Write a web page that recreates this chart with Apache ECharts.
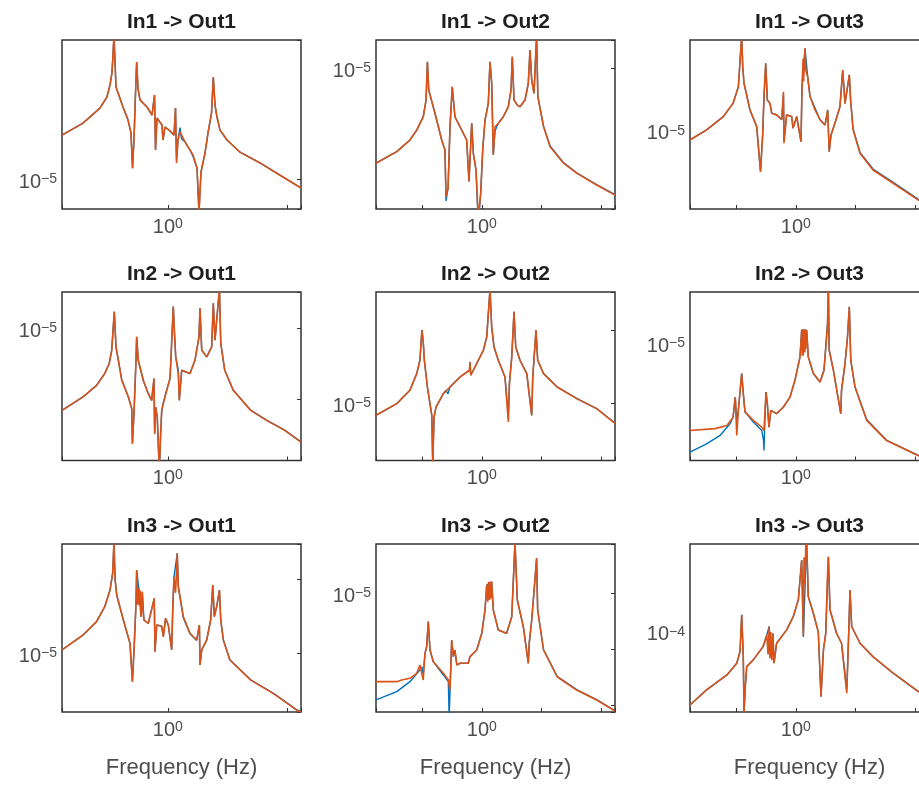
<!DOCTYPE html>
<html><head><meta charset="utf-8">
<script src="https://cdn.jsdelivr.net/npm/echarts@6/dist/echarts.min.js"></script>
<style>html,body{margin:0;padding:0;background:#fff}#c{width:919px;height:787px}</style>
</head><body><div id="c"></div>
<script>
// ---------- data (frequency in Hz, magnitude) ----------
const titles = ['In1 -> Out1','In1 -> Out2','In1 -> Out3','In2 -> Out1','In2 -> Out2','In2 -> Out3','In3 -> Out1','In3 -> Out2','In3 -> Out3'];
const xAxisName = 'Frequency (Hz)';
const xRange = [0.13, 13];
const xLabelExp = 0;
const yRanges = [[6.31e-6,8.45e-5],[1.148e-6,1.538e-5],[2.51e-6,5.01e-5],[1.384e-7,3.21e-5],[1.656e-6,3.32e-4],[1.259e-6,2.47e-5],[1.596e-6,2.97e-4],[7.5e-8,7.5e-5],[2.15e-5,5.41e-4]];
const yLabelExp = [-5,-5,-5,-5,-5,-5,-5,-5,-4];

// orange response
const resp2_11 = [[0.130,1.96e-5],[0.195,2.36e-5],[0.270,2.97e-5],[0.309,3.52e-5],[0.328,4.24e-5],[0.341,5.16e-5],[0.354,9.0e-5],[0.368,4.10e-5],[0.421,3.02e-5],[0.464,2.47e-5],[0.491,2.03e-5],[0.506,1.18e-5],[0.521,1.87e-5],[0.536,3.74e-5],[0.548,6.03e-5],[0.562,4.04e-5],[0.584,3.37e-5],[0.669,3.02e-5],[0.736,2.67e-5],[0.773,3.63e-5],[0.788,1.56e-5],[0.811,2.55e-5],[0.893,2.29e-5],[0.910,1.82e-5],[0.946,2.22e-5],[1.042,2.09e-5],[1.125,1.96e-5],[1.158,2.97e-5],[1.181,1.28e-5],[1.215,1.82e-5],[1.263,2.06e-5],[1.391,1.77e-5],[1.531,1.56e-5],[1.622,1.45e-5],[1.753,1.18e-5],[1.821,6.0e-6],[1.893,1.11e-5],[2.045,1.49e-5],[2.167,2.03e-5],[2.317,2.75e-5],[2.40,4.79e-5],[2.479,3.11e-5],[2.577,2.59e-5],[2.73,2.12e-5],[3.124,1.82e-5],[4.013,1.51e-5],[5.90,1.28e-5],[8.68,1.06e-5],[13.0,8.71e-6]];
const resp2_12 = [[0.130,2.32e-6],[0.194,2.77e-6],[0.250,3.31e-6],[0.285,3.86e-6],[0.323,4.73e-6],[0.341,6.12e-6],[0.350,1.10e-5],[0.359,7.13e-6],[0.405,4.99e-6],[0.461,3.31e-6],[0.491,2.84e-6],[0.501,1.39e-6],[0.521,1.58e-6],[0.541,4.06e-6],[0.565,7.5e-6],[0.595,4.73e-6],[0.656,4.06e-6],[0.746,3.31e-6],[0.780,1.75e-6],[0.822,4.28e-6],[0.848,2.70e-6],[0.893,2.09e-6],[0.933,1.0e-6],[0.977,1.46e-6],[1.016,2.84e-6],[1.062,4.50e-6],[1.132,5.82e-6],[1.169,1.10e-5],[1.208,7.91e-6],[1.246,2.63e-6],[1.288,4.06e-6],[1.372,4.28e-6],[1.510,4.73e-6],[1.664,5.52e-6],[1.753,7.13e-6],[1.797,1.19e-5],[1.857,6.12e-6],[1.98,5.66e-6],[2.084,5.52e-6],[2.296,6.12e-6],[2.446,7.91e-6],[2.527,1.32e-5],[2.612,8.32e-6],[2.730,6.78e-6],[2.87,1.66e-5],[2.94,6.44e-6],[3.28,4.06e-6],[3.72,2.99e-6],[4.82,2.32e-6],[6.21,1.99e-6],[9.13,1.66e-6],[13.0,1.42e-6]];
const resp2_13 = [[0.130,8.53e-6],[0.179,1.02e-5],[0.247,1.29e-5],[0.298,1.63e-5],[0.330,2.19e-5],[0.352,5.4e-5],[0.359,3.13e-5],[0.368,2.33e-5],[0.413,1.45e-5],[0.470,1.08e-5],[0.506,4.87e-6],[0.528,9.6e-6],[0.541,1.84e-5],[0.559,3.32e-5],[0.577,1.73e-5],[0.607,1.63e-5],[0.627,1.37e-5],[0.690,1.33e-5],[0.761,1.22e-5],[0.787,2.00e-5],[0.795,8.04e-6],[0.837,1.33e-5],[0.923,1.29e-5],[0.946,1.05e-5],[1.016,1.29e-5],[1.104,8.28e-6],[1.125,2.19e-5],[1.15,3.6e-5],[1.16,2.4e-5],[1.192,4.32e-5],[1.21,2.9e-5],[1.255,2.62e-5],[1.313,1.84e-5],[1.446,1.45e-5],[1.592,1.22e-5],[1.753,1.11e-5],[1.846,1.45e-5],[1.90,6.93e-6],[1.968,9.32e-6],[2.125,1.15e-5],[2.339,1.54e-5],[2.465,2.94e-5],[2.577,1.63e-5],[2.80,2.70e-5],[2.87,1.73e-5],[3.01,1.02e-5],[3.44,6.73e-6],[4.42,5.01e-6],[6.52,3.96e-6],[10.6,2.94e-6],[13.0,2.65e-6]];
const resp2_21 = [[0.130,7.0e-7],[0.195,1.08e-6],[0.253,1.57e-6],[0.296,2.30e-6],[0.323,3.18e-6],[0.339,4.90e-6],[0.356,1.70e-5],[0.368,5.45e-6],[0.411,1.85e-6],[0.467,1.08e-6],[0.498,7.4e-7],[0.505,2.38e-7],[0.521,6.62e-7],[0.541,3.54e-6],[0.548,7.55e-6],[0.565,3.54e-6],[0.622,1.85e-6],[0.686,1.20e-6],[0.732,9.68e-7],[0.765,1.96e-6],[0.775,3.29e-7],[0.79,7.8e-7],[0.815,5.64e-7],[0.848,1.0e-7],[0.87,3.29e-7],[0.888,7.0e-7],[0.916,8.7e-7],[0.977,1.34e-6],[1.042,1.96e-6],[1.11,2.0e-5],[1.132,9.37e-6],[1.163,3.94e-6],[1.222,2.30e-6],[1.246,9.68e-7],[1.305,2.56e-6],[1.531,2.30e-6],[1.686,3.54e-6],[1.821,7.55e-6],[1.857,1.89e-5],[1.92,4.90e-6],[2.113,3.94e-6],[2.325,5.45e-6],[2.40,2.23e-5],[2.479,6.78e-6],[2.70,3.6e-5],[2.77,6.09e-6],[2.99,2.56e-6],[3.52,1.34e-6],[4.93,7.0e-7],[6.7,5.06e-7],[9.5,3.66e-7],[13.0,2.51e-7]];
const resp2_22 = [[0.130,6.86e-6],[0.194,9.9e-6],[0.250,1.51e-5],[0.285,2.55e-5],[0.303,3.88e-5],[0.315,1.0e-4],[0.323,6.92e-5],[0.330,3.88e-5],[0.350,1.67e-5],[0.381,6.86e-6],[0.388,1.5e-6],[0.398,6.49e-6],[0.413,8.9e-6],[0.476,1.36e-5],[0.541,1.67e-5],[0.656,2.29e-5],[0.787,2.83e-5],[0.795,3.68e-5],[0.807,2.42e-5],[0.905,3.50e-5],[1.029,5.32e-5],[1.098,8.09e-5],[1.169,3.6e-4],[1.208,1.11e-4],[1.263,5.90e-5],[1.372,3.88e-5],[1.561,2.29e-5],[1.664,5.55e-6],[1.70,1.86e-5],[1.778,4.30e-5],[1.857,1.78e-4],[1.92,5.90e-5],[2.084,3.88e-5],[2.375,2.55e-5],[2.612,6.86e-6],[2.665,2.29e-5],[2.838,1.0e-4],[2.93,3.88e-5],[3.28,2.55e-5],[4.26,1.67e-5],[6.21,1.16e-5],[9.13,8.46e-6],[12.6,5.55e-6],[13.0,5.32e-6]];
const resp2_23 = [[0.130,2.14e-6],[0.210,2.21e-6],[0.265,2.34e-6],[0.298,2.71e-6],[0.311,3.86e-6],[0.320,1.96e-6],[0.330,3.05e-6],[0.352,5.85e-6],[0.363,4.10e-6],[0.375,2.97e-6],[0.44,2.56e-6],[0.518,2.27e-6],[0.541,2.14e-6],[0.562,4.22e-6],[0.577,3.44e-6],[0.595,2.27e-6],[0.617,3.05e-6],[0.69,2.88e-6],[0.787,3.24e-6],[0.893,3.86e-6],[0.982,5.19e-6],[1.083,7.85e-6],[1.118,1.26e-5],[1.13,8.0e-6],[1.14,1.28e-5],[1.15,8.0e-6],[1.16,1.28e-5],[1.17,8.5e-6],[1.18,1.28e-5],[1.19,8.5e-6],[1.20,1.26e-5],[1.21,9.0e-6],[1.23,1.26e-5],[1.27,7.85e-6],[1.40,5.85e-6],[1.592,5.04e-6],[1.719,6.2e-6],[1.84,1.4e-5],[1.87,2.8e-5],[1.90,8.84e-6],[2.06,6.2e-6],[2.375,2.88e-6],[2.41,4.35e-6],[2.577,6.98e-6],[2.70,1.1e-5],[2.80,1.90e-5],[2.88,7.4e-6],[3.124,4.61e-6],[3.91,2.56e-6],[5.75,1.79e-6],[10.6,1.37e-6],[13.0,1.30e-6]];
const resp2_31 = [[0.130,1.10e-5],[0.195,1.75e-5],[0.253,2.65e-5],[0.296,4.22e-5],[0.328,7.09e-5],[0.345,1.2e-4],[0.354,3.2e-4],[0.361,1.02e-4],[0.373,6.08e-5],[0.424,2.79e-5],[0.482,1.35e-5],[0.505,4.09e-6],[0.521,1.10e-5],[0.541,4.70e-5],[0.548,1.32e-4],[0.560,4.5e-5],[0.570,7.5e-5],[0.577,4.41e-5],[0.586,7.0e-5],[0.595,3.10e-5],[0.611,6.73e-5],[0.620,3.5e-5],[0.631,2.79e-5],[0.686,2.52e-5],[0.769,5.48e-5],[0.780,1.04e-5],[0.807,2.39e-5],[0.888,2.30e-5],[0.916,1.66e-5],[0.956,2.94e-5],[1.008,2.39e-5],[1.076,1.10e-5],[1.098,3.81e-5],[1.125,1.07e-4],[1.160,6.5e-5],[1.198,2.22e-4],[1.222,7.87e-5],[1.346,3.10e-5],[1.531,1.85e-5],[1.741,1.50e-5],[1.835,2.39e-5],[1.857,6.89e-6],[1.92,1.10e-5],[2.113,1.50e-5],[2.28,2.79e-5],[2.375,8.29e-5],[2.446,3.10e-5],[2.56,4.22e-5],[2.70,7.09e-5],[2.77,2.79e-5],[2.91,1.50e-5],[3.30,8.04e-6],[4.93,4.31e-6],[7.6,2.85e-6],[11.9,1.70e-6],[13.0,1.60e-6]];
const resp2_32 = [[0.130,2.61e-7],[0.194,2.61e-7],[0.213,2.79e-7],[0.250,3.0e-7],[0.285,3.68e-7],[0.303,5.18e-7],[0.323,2.79e-7],[0.334,8.37e-7],[0.345,1.10e-6],[0.356,3.08e-6],[0.368,9.6e-7],[0.392,5.94e-7],[0.476,3.68e-7],[0.524,2.79e-7],[0.541,1.85e-7],[0.559,1.45e-6],[0.577,7.3e-7],[0.595,9.6e-7],[0.617,5.18e-7],[0.656,5.56e-7],[0.769,5.56e-7],[0.795,7.3e-7],[0.905,9.6e-7],[0.998,1.91e-6],[1.062,4.97e-6],[1.098,1.39e-5],[1.12,7.0e-6],[1.14,1.59e-5],[1.16,7.5e-6],[1.175,1.59e-5],[1.19,8.0e-6],[1.208,1.59e-5],[1.246,4.97e-6],[1.372,2.18e-6],[1.61,1.91e-6],[1.778,3.77e-6],[1.893,8.1e-5],[1.98,7.5e-6],[2.222,2.50e-6],[2.446,5.56e-7],[2.49,1.27e-6],[2.612,3.30e-6],[2.75,1.3e-5],[2.87,4.17e-5],[2.93,4.97e-6],[3.28,9.6e-7],[4.26,3.2e-7],[6.21,1.85e-7],[9.13,1.23e-7],[13.0,7.8e-8]];
const resp2_33 = [[0.130,2.46e-5],[0.179,3.29e-5],[0.265,4.38e-5],[0.320,5.48e-5],[0.341,6.86e-5],[0.352,1.39e-4],[0.363,6.22e-5],[0.368,2.09e-5],[0.377,3.50e-5],[0.388,5.14e-5],[0.44,5.85e-5],[0.532,7.55e-5],[0.571,9.44e-5],[0.585,6.5e-5],[0.598,1.11e-4],[0.607,6.0e-5],[0.617,1.0e-4],[0.630,5.8e-5],[0.643,9.75e-5],[0.656,5.48e-5],[0.69,8.05e-5],[0.837,1.04e-4],[0.95,1.34e-4],[1.048,1.85e-4],[1.118,3.98e-4],[1.155,9.14e-5],[1.17,4.2e-4],[1.19,2.5e-4],[1.21,5.2e-4],[1.23,5.75e-4],[1.27,1.97e-4],[1.40,1.43e-4],[1.54,1.0e-4],[1.622,2.89e-5],[1.70,7.08e-5],[1.778,9.75e-5],[1.84,3.0e-4],[1.87,4.24e-4],[1.93,1.53e-4],[2.19,9.75e-5],[2.41,8.05e-5],[2.665,3.08e-5],[2.75,8.05e-5],[2.838,2.24e-4],[2.93,1.11e-4],[3.44,8.05e-5],[4.42,6.22e-5],[6.52,4.53e-5],[10.6,3.18e-5],[13.0,2.82e-5]];

// blue response
const resp1_11 = [[0.130,1.96e-5],[0.195,2.36e-5],[0.270,2.97e-5],[0.309,3.52e-5],[0.328,4.24e-5],[0.341,5.16e-5],[0.354,9.0e-5],[0.368,4.10e-5],[0.421,3.02e-5],[0.464,2.47e-5],[0.491,2.03e-5],[0.506,1.18e-5],[0.521,1.87e-5],[0.536,3.74e-5],[0.548,6.03e-5],[0.562,4.04e-5],[0.584,3.37e-5],[0.669,3.02e-5],[0.736,2.67e-5],[0.773,3.63e-5],[0.788,1.56e-5],[0.811,2.55e-5],[0.893,2.29e-5],[0.910,1.82e-5],[0.946,2.22e-5],[1.042,2.09e-5],[1.125,1.96e-5],[1.158,2.97e-5],[1.181,1.35e-5],[1.215,1.82e-5],[1.263,2.2e-5],[1.30,1.85e-5],[1.391,1.77e-5],[1.531,1.56e-5],[1.622,1.42e-5],[1.753,1.18e-5],[1.821,6.0e-6],[1.893,1.11e-5],[2.045,1.49e-5],[2.167,2.03e-5],[2.317,2.75e-5],[2.40,4.79e-5],[2.479,3.11e-5],[2.577,2.59e-5],[2.73,2.12e-5],[3.124,1.82e-5],[4.013,1.51e-5],[5.90,1.28e-5],[8.68,1.06e-5],[13.0,8.71e-6]];
const resp1_12 = [[0.130,2.32e-6],[0.194,2.77e-6],[0.250,3.31e-6],[0.285,3.86e-6],[0.323,4.73e-6],[0.341,6.12e-6],[0.350,1.10e-5],[0.359,7.13e-6],[0.405,4.99e-6],[0.461,3.31e-6],[0.491,2.84e-6],[0.501,1.30e-6],[0.521,1.58e-6],[0.541,4.06e-6],[0.565,7.5e-6],[0.595,4.73e-6],[0.656,4.06e-6],[0.746,3.31e-6],[0.780,1.75e-6],[0.822,4.28e-6],[0.848,2.70e-6],[0.893,2.09e-6],[0.933,9.0e-7],[0.977,1.46e-6],[1.016,2.84e-6],[1.062,4.50e-6],[1.132,5.82e-6],[1.169,1.10e-5],[1.208,7.91e-6],[1.246,2.63e-6],[1.288,3.8e-6],[1.372,4.28e-6],[1.510,4.73e-6],[1.664,5.52e-6],[1.753,7.13e-6],[1.797,1.19e-5],[1.857,6.12e-6],[1.98,5.66e-6],[2.084,5.52e-6],[2.296,6.12e-6],[2.446,7.91e-6],[2.527,1.32e-5],[2.612,8.32e-6],[2.730,6.78e-6],[2.87,1.66e-5],[2.94,6.44e-6],[3.28,4.1e-6],[3.72,3.02e-6],[4.82,2.34e-6],[6.21,2.0e-6],[9.13,1.67e-6],[13.0,1.43e-6]];
const resp1_13 = [[0.130,8.53e-6],[0.179,1.02e-5],[0.247,1.29e-5],[0.298,1.63e-5],[0.330,2.19e-5],[0.352,5.4e-5],[0.359,3.13e-5],[0.368,2.33e-5],[0.413,1.45e-5],[0.470,1.08e-5],[0.506,4.87e-6],[0.528,9.6e-6],[0.541,1.84e-5],[0.559,3.32e-5],[0.577,1.73e-5],[0.607,1.63e-5],[0.627,1.37e-5],[0.690,1.33e-5],[0.761,1.22e-5],[0.787,1.9e-5],[0.795,8.5e-6],[0.837,1.33e-5],[0.923,1.29e-5],[0.946,1.05e-5],[1.016,1.29e-5],[1.104,8.28e-6],[1.125,2.19e-5],[1.192,4.32e-5],[1.255,2.62e-5],[1.313,1.84e-5],[1.446,1.5e-5],[1.592,1.22e-5],[1.753,1.11e-5],[1.846,1.45e-5],[1.90,6.93e-6],[1.968,9.32e-6],[2.125,1.15e-5],[2.339,1.54e-5],[2.465,2.94e-5],[2.577,1.63e-5],[2.80,2.70e-5],[2.87,1.73e-5],[3.01,1.04e-5],[3.44,6.85e-6],[4.42,5.1e-6],[6.52,4.02e-6],[10.6,2.98e-6],[13.0,2.68e-6]];
const resp1_21 = [[0.130,7.0e-7],[0.195,1.08e-6],[0.253,1.57e-6],[0.296,2.30e-6],[0.323,3.18e-6],[0.339,4.90e-6],[0.356,1.70e-5],[0.368,5.45e-6],[0.411,1.9e-6],[0.467,1.08e-6],[0.498,7.4e-7],[0.505,2.38e-7],[0.521,6.62e-7],[0.541,3.54e-6],[0.548,7.55e-6],[0.565,3.54e-6],[0.622,1.85e-6],[0.686,1.20e-6],[0.732,9.68e-7],[0.765,1.96e-6],[0.775,3.29e-7],[0.79,7.8e-7],[0.815,5.64e-7],[0.848,9.0e-8],[0.86,9.0e-8],[0.87,3.29e-7],[0.888,7.0e-7],[0.916,9.0e-7],[0.977,1.34e-6],[1.042,1.96e-6],[1.11,2.0e-5],[1.132,9.37e-6],[1.163,3.94e-6],[1.222,2.6e-6],[1.246,9.68e-7],[1.305,2.56e-6],[1.531,2.30e-6],[1.686,3.54e-6],[1.821,7.55e-6],[1.857,1.89e-5],[1.92,4.90e-6],[2.113,3.94e-6],[2.325,5.45e-6],[2.40,2.23e-5],[2.479,6.78e-6],[2.70,3.6e-5],[2.77,6.09e-6],[2.99,2.56e-6],[3.52,1.35e-6],[4.93,7.05e-7],[6.7,5.1e-7],[9.5,3.7e-7],[13.0,2.53e-7]];
const resp1_22 = [[0.130,6.86e-6],[0.194,9.9e-6],[0.250,1.51e-5],[0.285,2.55e-5],[0.303,3.88e-5],[0.315,1.0e-4],[0.323,6.92e-5],[0.330,3.88e-5],[0.350,1.67e-5],[0.381,6.86e-6],[0.388,1.5e-6],[0.398,6.49e-6],[0.413,8.9e-6],[0.476,1.36e-5],[0.50,1.5e-5],[0.52,1.35e-5],[0.541,1.67e-5],[0.656,2.29e-5],[0.787,2.83e-5],[0.795,3.68e-5],[0.807,2.42e-5],[0.905,3.50e-5],[1.029,5.32e-5],[1.098,8.09e-5],[1.169,3.6e-4],[1.208,1.11e-4],[1.263,5.90e-5],[1.372,3.88e-5],[1.561,2.29e-5],[1.664,6.5e-6],[1.70,1.86e-5],[1.778,4.30e-5],[1.857,1.78e-4],[1.92,5.90e-5],[2.084,3.88e-5],[2.375,2.55e-5],[2.612,6.86e-6],[2.665,2.29e-5],[2.838,1.0e-4],[2.93,3.88e-5],[3.28,2.55e-5],[4.26,1.68e-5],[6.21,1.17e-5],[9.13,8.5e-6],[12.6,5.6e-6],[13.0,5.35e-6]];
const resp1_23 = [[0.130,1.46e-6],[0.179,1.69e-6],[0.232,1.96e-6],[0.281,2.41e-6],[0.298,2.71e-6],[0.311,3.86e-6],[0.320,2.5e-6],[0.330,3.05e-6],[0.352,5.85e-6],[0.363,4.10e-6],[0.375,2.97e-6],[0.44,2.48e-6],[0.518,2.14e-6],[0.536,1.8e-6],[0.541,1.50e-6],[0.548,2.27e-6],[0.562,4.22e-6],[0.577,3.44e-6],[0.595,2.27e-6],[0.617,3.05e-6],[0.69,2.88e-6],[0.787,3.24e-6],[0.893,3.86e-6],[0.982,5.19e-6],[1.083,7.85e-6],[1.118,1.26e-5],[1.23,1.26e-5],[1.27,7.85e-6],[1.40,5.85e-6],[1.592,5.04e-6],[1.719,6.2e-6],[1.84,1.4e-5],[1.87,2.8e-5],[1.90,8.84e-6],[2.06,6.2e-6],[2.375,2.88e-6],[2.41,4.35e-6],[2.577,6.98e-6],[2.70,1.1e-5],[2.80,1.90e-5],[2.88,7.4e-6],[3.124,4.61e-6],[3.91,2.6e-6],[5.75,1.8e-6],[10.6,1.38e-6],[13.0,1.31e-6]];
const resp1_31 = [[0.130,1.10e-5],[0.195,1.75e-5],[0.253,2.65e-5],[0.296,4.22e-5],[0.328,7.09e-5],[0.345,1.2e-4],[0.354,3.2e-4],[0.361,1.02e-4],[0.373,6.08e-5],[0.424,2.79e-5],[0.482,1.35e-5],[0.505,4.09e-6],[0.521,1.10e-5],[0.541,4.70e-5],[0.548,1.32e-4],[0.577,6.41e-5],[0.595,3.10e-5],[0.611,6.73e-5],[0.631,2.79e-5],[0.686,2.52e-5],[0.769,5.48e-5],[0.780,1.04e-5],[0.807,2.39e-5],[0.888,2.30e-5],[0.916,1.66e-5],[0.956,2.94e-5],[1.008,2.39e-5],[1.076,1.10e-5],[1.098,3.81e-5],[1.125,1.07e-4],[1.198,2.22e-4],[1.222,7.87e-5],[1.346,3.0e-5],[1.531,1.82e-5],[1.741,1.48e-5],[1.835,2.39e-5],[1.857,6.89e-6],[1.92,1.10e-5],[2.113,1.50e-5],[2.28,2.79e-5],[2.375,8.29e-5],[2.446,3.10e-5],[2.56,4.22e-5],[2.70,7.09e-5],[2.77,2.79e-5],[2.91,1.50e-5],[3.30,8.1e-6],[4.93,4.35e-6],[7.6,2.88e-6],[11.9,1.72e-6],[13.0,1.62e-6]];
const resp1_32 = [[0.130,1.23e-7],[0.194,1.73e-7],[0.250,2.61e-7],[0.295,3.94e-7],[0.315,4.8e-7],[0.323,3.5e-7],[0.334,8.37e-7],[0.345,1.10e-6],[0.356,3.08e-6],[0.368,9.6e-7],[0.392,5.94e-7],[0.476,3.44e-7],[0.524,2.61e-7],[0.532,6e-8],[0.545,6e-8],[0.559,1.45e-6],[0.577,7.3e-7],[0.595,9.6e-7],[0.617,5.18e-7],[0.656,5.56e-7],[0.769,5.56e-7],[0.795,7.3e-7],[0.905,9.6e-7],[0.998,1.91e-6],[1.062,4.97e-6],[1.098,1.39e-5],[1.208,1.59e-5],[1.246,4.97e-6],[1.372,2.18e-6],[1.61,1.91e-6],[1.778,3.77e-6],[1.893,8.1e-5],[1.98,7.5e-6],[2.222,2.50e-6],[2.446,5.56e-7],[2.49,1.27e-6],[2.612,3.30e-6],[2.75,1.3e-5],[2.87,4.17e-5],[2.93,4.97e-6],[3.28,9.8e-7],[4.26,3.25e-7],[6.21,1.88e-7],[9.13,1.25e-7],[13.0,7.9e-8]];
const resp1_33 = [[0.130,2.46e-5],[0.179,3.29e-5],[0.265,4.38e-5],[0.320,5.48e-5],[0.341,6.86e-5],[0.352,1.39e-4],[0.363,6.22e-5],[0.368,2.09e-5],[0.377,3.50e-5],[0.388,5.14e-5],[0.44,5.85e-5],[0.532,7.55e-5],[0.571,9.44e-5],[0.598,1.11e-4],[0.617,6.22e-5],[0.643,9.75e-5],[0.656,5.48e-5],[0.69,8.05e-5],[0.837,1.04e-4],[0.95,1.34e-4],[1.048,1.85e-4],[1.118,3.98e-4],[1.155,9.14e-5],[1.23,5.75e-4],[1.27,1.97e-4],[1.40,1.43e-4],[1.54,1.0e-4],[1.622,2.89e-5],[1.70,7.08e-5],[1.778,9.75e-5],[1.87,4.24e-4],[1.93,1.53e-4],[2.19,9.75e-5],[2.41,8.05e-5],[2.665,3.3e-5],[2.75,8.05e-5],[2.838,2.24e-4],[2.93,1.11e-4],[3.44,8.05e-5],[4.42,6.22e-5],[6.52,4.53e-5],[10.6,3.18e-5],[13.0,2.82e-5]];

const respBlue = [resp1_11,resp1_12,resp1_13,resp1_21,resp1_22,resp1_23,resp1_31,resp1_32,resp1_33];
const respOrange = [resp2_11,resp2_12,resp2_13,resp2_21,resp2_22,resp2_23,resp2_31,resp2_32,resp2_33];

// ---------- layout / style ----------
const FONT = '"Liberation Sans", Arial, Helvetica, sans-serif';
const lefts = [62, 376, 690];
const tops = [40, 292, 544];
const heights = [169, 168.5, 168];
const W = 239;
const BLUE = '#0072BD', ORANGE = '#D95319';
const richLabel = {
  a: {fontSize: 20, lineHeight: 20, padding: [4,0,0,0], verticalAlign: 'bottom', color: '#4d4d4d', fontFamily: FONT},
  b: {fontSize: 14, lineHeight: 14, verticalAlign: 'top', color: '#4d4d4d', fontFamily: FONT}
};

const grids = [], xAxes = [], yAxes = [], series = [], graphics = [];
for (let i = 0; i < 9; i++) {
  const r = Math.floor(i / 3), c = i % 3;
  grids.push({left: lefts[c], top: tops[r], width: W, height: heights[r], show: true,
    borderColor: '#333', borderWidth: 1.5, backgroundColor: 'transparent',
    containLabel: false, outerBoundsMode: 'none'});
  const xa = {gridIndex: i, type: 'log', logBase: c === 0 ? 10 : Math.sqrt(10),
    min: xRange[0], max: xRange[1],
    axisLine: {show: false}, splitLine: {show: false}, minorTick: {show: false},
    axisTick: {show: true, inside: true, length: 4, lineStyle: {color: '#333', width: 1}},
    axisLabel: {margin: 8, rich: richLabel,
      formatter: v => Math.abs(Math.log10(v) - xLabelExp) < 0.01 ? '{a|10}{b|' + xLabelExp + '}' : ''}};
  if (r === 2) {
    xa.name = xAxisName; xa.nameLocation = 'middle'; xa.nameGap = 45;
    xa.nameTextStyle = {fontSize: 22, color: '#4d4d4d', fontFamily: FONT};
  }
  xAxes.push(xa);
  const exp = yLabelExp[i];
  yAxes.push({gridIndex: i, type: 'log', position: 'left', min: yRanges[i][0], max: yRanges[i][1],
    axisLine: {show: false}, axisTick: {show: false}, splitLine: {show: false}, minorTick: {show: false},
    axisLabel: {margin: 5, padding: [6,0,0,0], rich: richLabel,
      formatter: v => Math.abs(Math.log10(v) - exp) < 0.01 ? '{a|10}{b|\u2212' + (-exp) + '}' : ''}});
  yAxes.push({gridIndex: i, type: 'log', position: 'right', min: yRanges[i][0], max: yRanges[i][1],
    axisLine: {show: false}, splitLine: {show: false}, minorTick: {show: false},
    axisTick: {show: true, inside: true, length: 4, lineStyle: {color: '#333', width: 1}},
    axisLabel: {show: false}});
  series.push({type: 'line', xAxisIndex: i, yAxisIndex: 2 * i, data: respBlue[i], showSymbol: false, symbol: 'none',
    lineStyle: {color: BLUE, width: 1.4}, itemStyle: {color: BLUE}, clip: true, z: 2, silent: true, animation: false});
  series.push({type: 'line', xAxisIndex: i, yAxisIndex: 2 * i, data: respOrange[i], showSymbol: false, symbol: 'none',
    lineStyle: {color: ORANGE, width: 1.6}, itemStyle: {color: ORANGE}, clip: true, z: 3, silent: true, animation: false});
  graphics.push({type: 'text', x: lefts[c] + W / 2, y: tops[r] - 18,
    style: {text: titles[i], fontSize: 21, fontWeight: 'bold', fontFamily: FONT, fill: '#1f1f1f',
      align: 'center', verticalAlign: 'middle', textAlign: 'center', textVerticalAlign: 'middle'}});
}

const chart = echarts.init(document.getElementById('c'), null, {renderer: 'canvas'});
chart.setOption({
  animation: false,
  backgroundColor: '#ffffff',
  grid: grids, xAxis: xAxes, yAxis: yAxes, series: series, graphic: graphics,
  tooltip: {show: false}
});
</script></body></html>
